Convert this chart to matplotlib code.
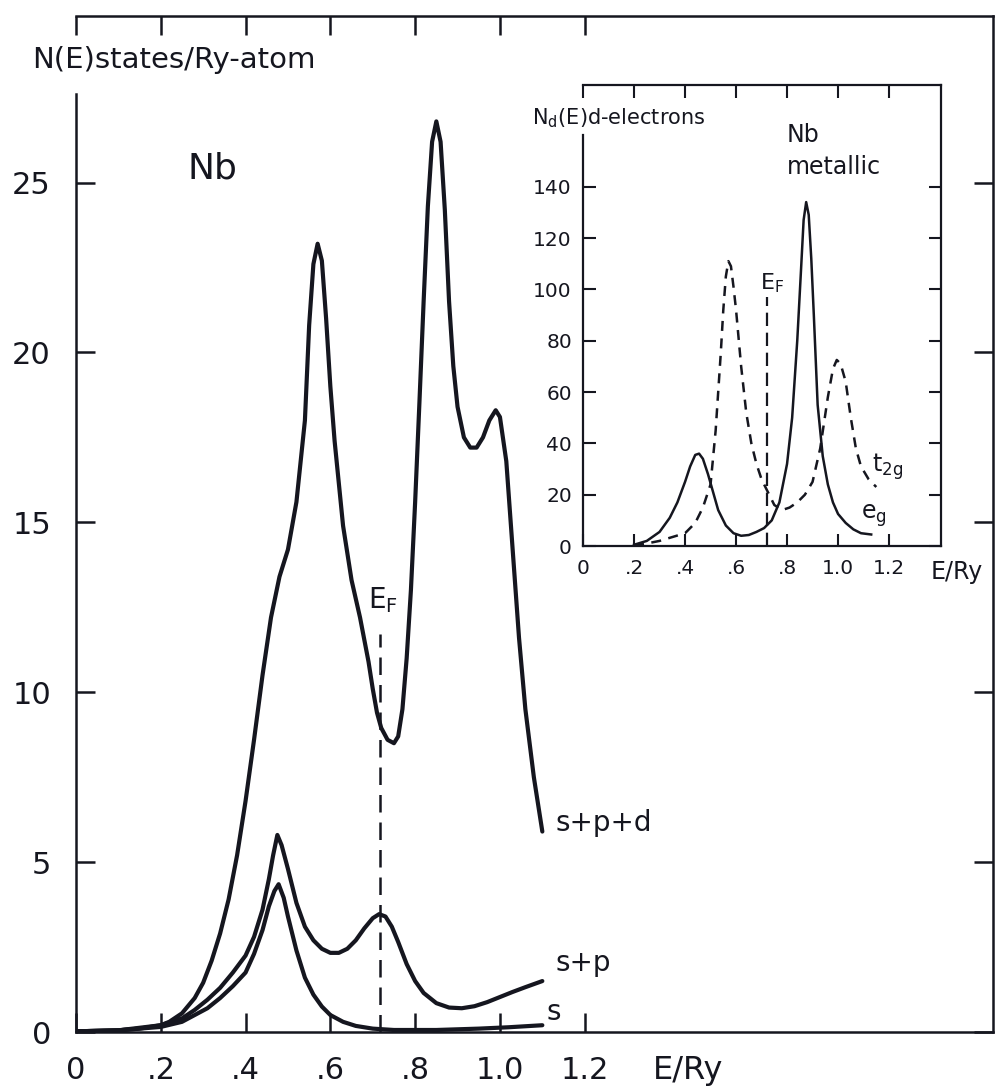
import matplotlib
matplotlib.use("Agg")
import matplotlib.pyplot as plt

plt.rcParams['font.family'] = ['DejaVu Sans']
plt.rcParams['mathtext.fontset'] = 'dejavusans'

ink = '#15161f'

# main panel: N(E) of Nb, states/Ry-atom
spd_x = [0, 0.1, 0.15, 0.2, 0.22, 0.25, 0.28, 0.30, 0.32, 0.34, 0.36, 0.38, 0.40, 0.42, 0.44, 0.46,
         0.48, 0.50, 0.52, 0.54, 0.55, 0.56, 0.57, 0.58, 0.59, 0.60, 0.61, 0.63, 0.65, 0.67, 0.69,
         0.70, 0.71, 0.72, 0.735, 0.75, 0.76, 0.77, 0.78, 0.79, 0.80, 0.81, 0.82, 0.83, 0.84, 0.85,
         0.86, 0.87, 0.88, 0.89, 0.90, 0.915, 0.93, 0.945, 0.96, 0.975, 0.99, 1.0, 1.015, 1.03,
         1.045, 1.06, 1.08, 1.10]
spd_y = [0.02, 0.05, 0.1, 0.2, 0.3, 0.55, 1.0, 1.45, 2.1, 2.9, 3.9, 5.2, 6.8, 8.6, 10.5, 12.2,
         13.4, 14.2, 15.6, 18.0, 20.8, 22.6, 23.2, 22.7, 21.0, 19.0, 17.4, 14.9, 13.3, 12.2, 10.9,
         10.1, 9.4, 8.95, 8.6, 8.5, 8.7, 9.5, 11.0, 13.0, 15.6, 18.5, 21.5, 24.3, 26.2, 26.8,
         26.2, 24.2, 21.5, 19.6, 18.4, 17.5, 17.2, 17.2, 17.5, 18.0, 18.3, 18.1, 16.8, 14.2,
         11.6, 9.5, 7.5, 5.9]

sp_x = [0, 0.1, 0.2, 0.25, 0.28, 0.31, 0.34, 0.37, 0.40, 0.42, 0.44, 0.455, 0.465, 0.475, 0.485,
        0.50, 0.52, 0.54, 0.56, 0.58, 0.60, 0.62, 0.64, 0.66, 0.68, 0.70, 0.715, 0.73, 0.745, 0.76,
        0.78, 0.80, 0.82, 0.85, 0.88, 0.91, 0.94, 0.97, 1.0, 1.03, 1.06, 1.10]
sp_y = [0.02, 0.05, 0.2, 0.4, 0.65, 0.95, 1.3, 1.75, 2.25, 2.8, 3.6, 4.5, 5.2, 5.8, 5.5,
        4.8, 3.8, 3.1, 2.7, 2.45, 2.33, 2.33, 2.45, 2.7, 3.05, 3.35, 3.47, 3.4, 3.1, 2.65,
        2.0, 1.5, 1.15, 0.85, 0.72, 0.7, 0.76, 0.88, 1.03, 1.18, 1.32, 1.5]

s_x = [0, 0.1, 0.2, 0.25, 0.28, 0.31, 0.34, 0.37, 0.40, 0.42, 0.44, 0.455, 0.468, 0.478, 0.49,
       0.50, 0.52, 0.54, 0.56, 0.58, 0.60, 0.63, 0.66, 0.70, 0.75, 0.85, 0.95, 1.02, 1.1]
s_y = [0.02, 0.05, 0.15, 0.3, 0.5, 0.7, 1.0, 1.35, 1.75, 2.3, 3.0, 3.7, 4.15, 4.35, 3.95,
       3.4, 2.4, 1.6, 1.1, 0.75, 0.5, 0.3, 0.18, 0.1, 0.06, 0.06, 0.1, 0.14, 0.2]

ef_main = 0.717
main_xticks = [0, 0.2, 0.4, 0.6, 0.8, 1.0, 1.2]
main_xlabels = ['0', '.2', '.4', '.6', '.8', '1.0', '1.2']
main_yticks = [0, 5, 10, 15, 20, 25]

# inset: d-electron DOS split into eg and t2g
eg_x = [0.2, 0.25, 0.3, 0.34, 0.37, 0.40, 0.42, 0.44, 0.455, 0.47, 0.49, 0.51, 0.53, 0.56, 0.59,
        0.62, 0.65, 0.68, 0.71, 0.74, 0.77, 0.80, 0.82, 0.84, 0.855, 0.865, 0.875, 0.885, 0.895,
        0.905, 0.92, 0.94, 0.96, 0.98, 1.00, 1.03, 1.06, 1.09, 1.13]
eg_y = [0.5, 2, 5.5, 11, 17, 25, 31, 35.5, 36, 34, 28, 21, 14, 8, 5,
        4, 4.3, 5.5, 7, 10, 17, 32, 50, 80, 108, 127, 134, 129, 112,
        90, 55, 35, 24, 17, 12.5, 9, 6.5, 5, 4.5]

t2g_x = [0.2, 0.25, 0.3, 0.35, 0.40, 0.44, 0.47, 0.50, 0.52, 0.54, 0.55, 0.56, 0.57, 0.58, 0.59,
         0.60, 0.62, 0.64, 0.66, 0.68, 0.70, 0.72, 0.75, 0.78, 0.81, 0.84, 0.87, 0.90, 0.93, 0.96,
         0.98, 0.995, 1.01, 1.03, 1.05, 1.07, 1.09, 1.12, 1.15]
t2g_y = [0.3, 1, 2, 3.5, 5, 9, 15, 24, 45, 75, 92, 105, 111, 109, 101,
         92, 70, 52, 40, 32, 26, 22, 16, 14, 15, 17, 20, 25, 38, 58,
         69, 72.5, 71, 64, 50, 38, 31, 26, 23]

ef_inset = 0.72
inset_xticks = [0, 0.2, 0.4, 0.6, 0.8, 1.0, 1.2]
inset_xlabels = ['0', '.2', '.4', '.6', '.8', '1.0', '1.2']
inset_yticks = [0, 20, 40, 60, 80, 100, 120, 140]

fig = plt.figure(figsize=(9.97, 10.86), dpi=100)

# ---- main axes
ax = fig.add_axes([0.0762, 0.0497, 0.9198, 0.9355])
ax.set_xlim(0, 2.163)
ax.set_ylim(0, 29.9)
for sp in ax.spines.values():
    sp.set_linewidth(1.8)
    sp.set_color(ink)
ax.spines['left'].set_bounds(0, 27.6)

ax.plot(spd_x, spd_y, color=ink, lw=3.0, solid_capstyle='round', solid_joinstyle='round')
ax.plot(sp_x, sp_y, color=ink, lw=3.0, solid_capstyle='round', solid_joinstyle='round')
ax.plot(s_x, s_y, color=ink, lw=3.0, solid_capstyle='round', solid_joinstyle='round')
ax.plot([ef_main, ef_main], [0, 11.7], color=ink, lw=1.8, dashes=(7, 4))

ax.set_xticks(main_xticks)
ax.set_xticklabels(main_xlabels)
ax.set_yticks(main_yticks)
ax.tick_params(direction='in', length=14, width=1.8, color=ink, labelcolor=ink,
               top=True, right=True, labelsize=22)
ax.tick_params(axis='x', pad=17)
ax.tick_params(axis='y', pad=18)

ax.text(-0.104, 28.6, 'N(E)states/Ry-atom', fontsize=21, color=ink, va='center', ha='left',
        clip_on=False)
ax.text(1.443, -1.12, 'E/Ry', fontsize=23, color=ink, va='center', ha='center', clip_on=False)
ax.text(0.323, 25.4, 'Nb', fontsize=26, color=ink, va='center', ha='center')
ax.text(0.724, 12.7, r'E$_\mathregular{F}$', fontsize=20, color=ink, va='center', ha='center')
ax.text(1.13, 6.15, 's+p+d', fontsize=20, color=ink, va='center', ha='left')
ax.text(1.13, 2.03, 's+p', fontsize=20, color=ink, va='center', ha='left')
ax.text(1.11, 0.6, 's', fontsize=20, color=ink, va='center', ha='left')

# ---- inset axes
ins = fig.add_axes([0.5848, 0.4972, 0.3591, 0.4245])
ins.set_xlim(0, 1.404)
ins.set_ylim(0, 179.6)
for sp in ins.spines.values():
    sp.set_linewidth(1.6)
    sp.set_color(ink)
ins.spines['left'].set_bounds(0, 160)

ins.plot(eg_x, eg_y, color=ink, lw=1.8, solid_joinstyle='round')
ins.plot(t2g_x, t2g_y, color=ink, lw=1.8, dashes=(4, 3))
ins.plot([ef_inset, ef_inset], [0, 97], color=ink, lw=1.6, dashes=(6, 3))

ins.set_xticks(inset_xticks)
ins.set_xticklabels(inset_xlabels)
ins.set_yticks(inset_yticks)
ins.tick_params(direction='in', length=9, width=1.5, color=ink, labelcolor=ink,
                top=True, right=True, labelsize=14.5)
ins.tick_params(axis='x', pad=9)
ins.tick_params(axis='y', pad=8)

ins.text(-0.2, 166.7, r'N$_\mathregular{d}$(E)d-electrons', fontsize=15, color=ink,
         va='center', ha='left', clip_on=False)
ins.text(1.467, -10.1, 'E/Ry', fontsize=17, color=ink, va='center', ha='center', clip_on=False)
ins.text(0.8, 160, 'Nb', fontsize=17, color=ink, va='center', ha='left')
ins.text(0.8, 147.6, 'metallic', fontsize=17, color=ink, va='center', ha='left')
ins.text(0.741, 102.5, r'E$_\mathregular{F}$', fontsize=16, color=ink, va='center', ha='center')
ins.text(1.133, 30.8, r't$_\mathregular{2g}$', fontsize=17, color=ink, va='center', ha='left')
ins.text(1.09, 12, r'e$_\mathregular{g}$', fontsize=17, color=ink, va='center', ha='left')

fig.savefig('out.png', dpi=100)
